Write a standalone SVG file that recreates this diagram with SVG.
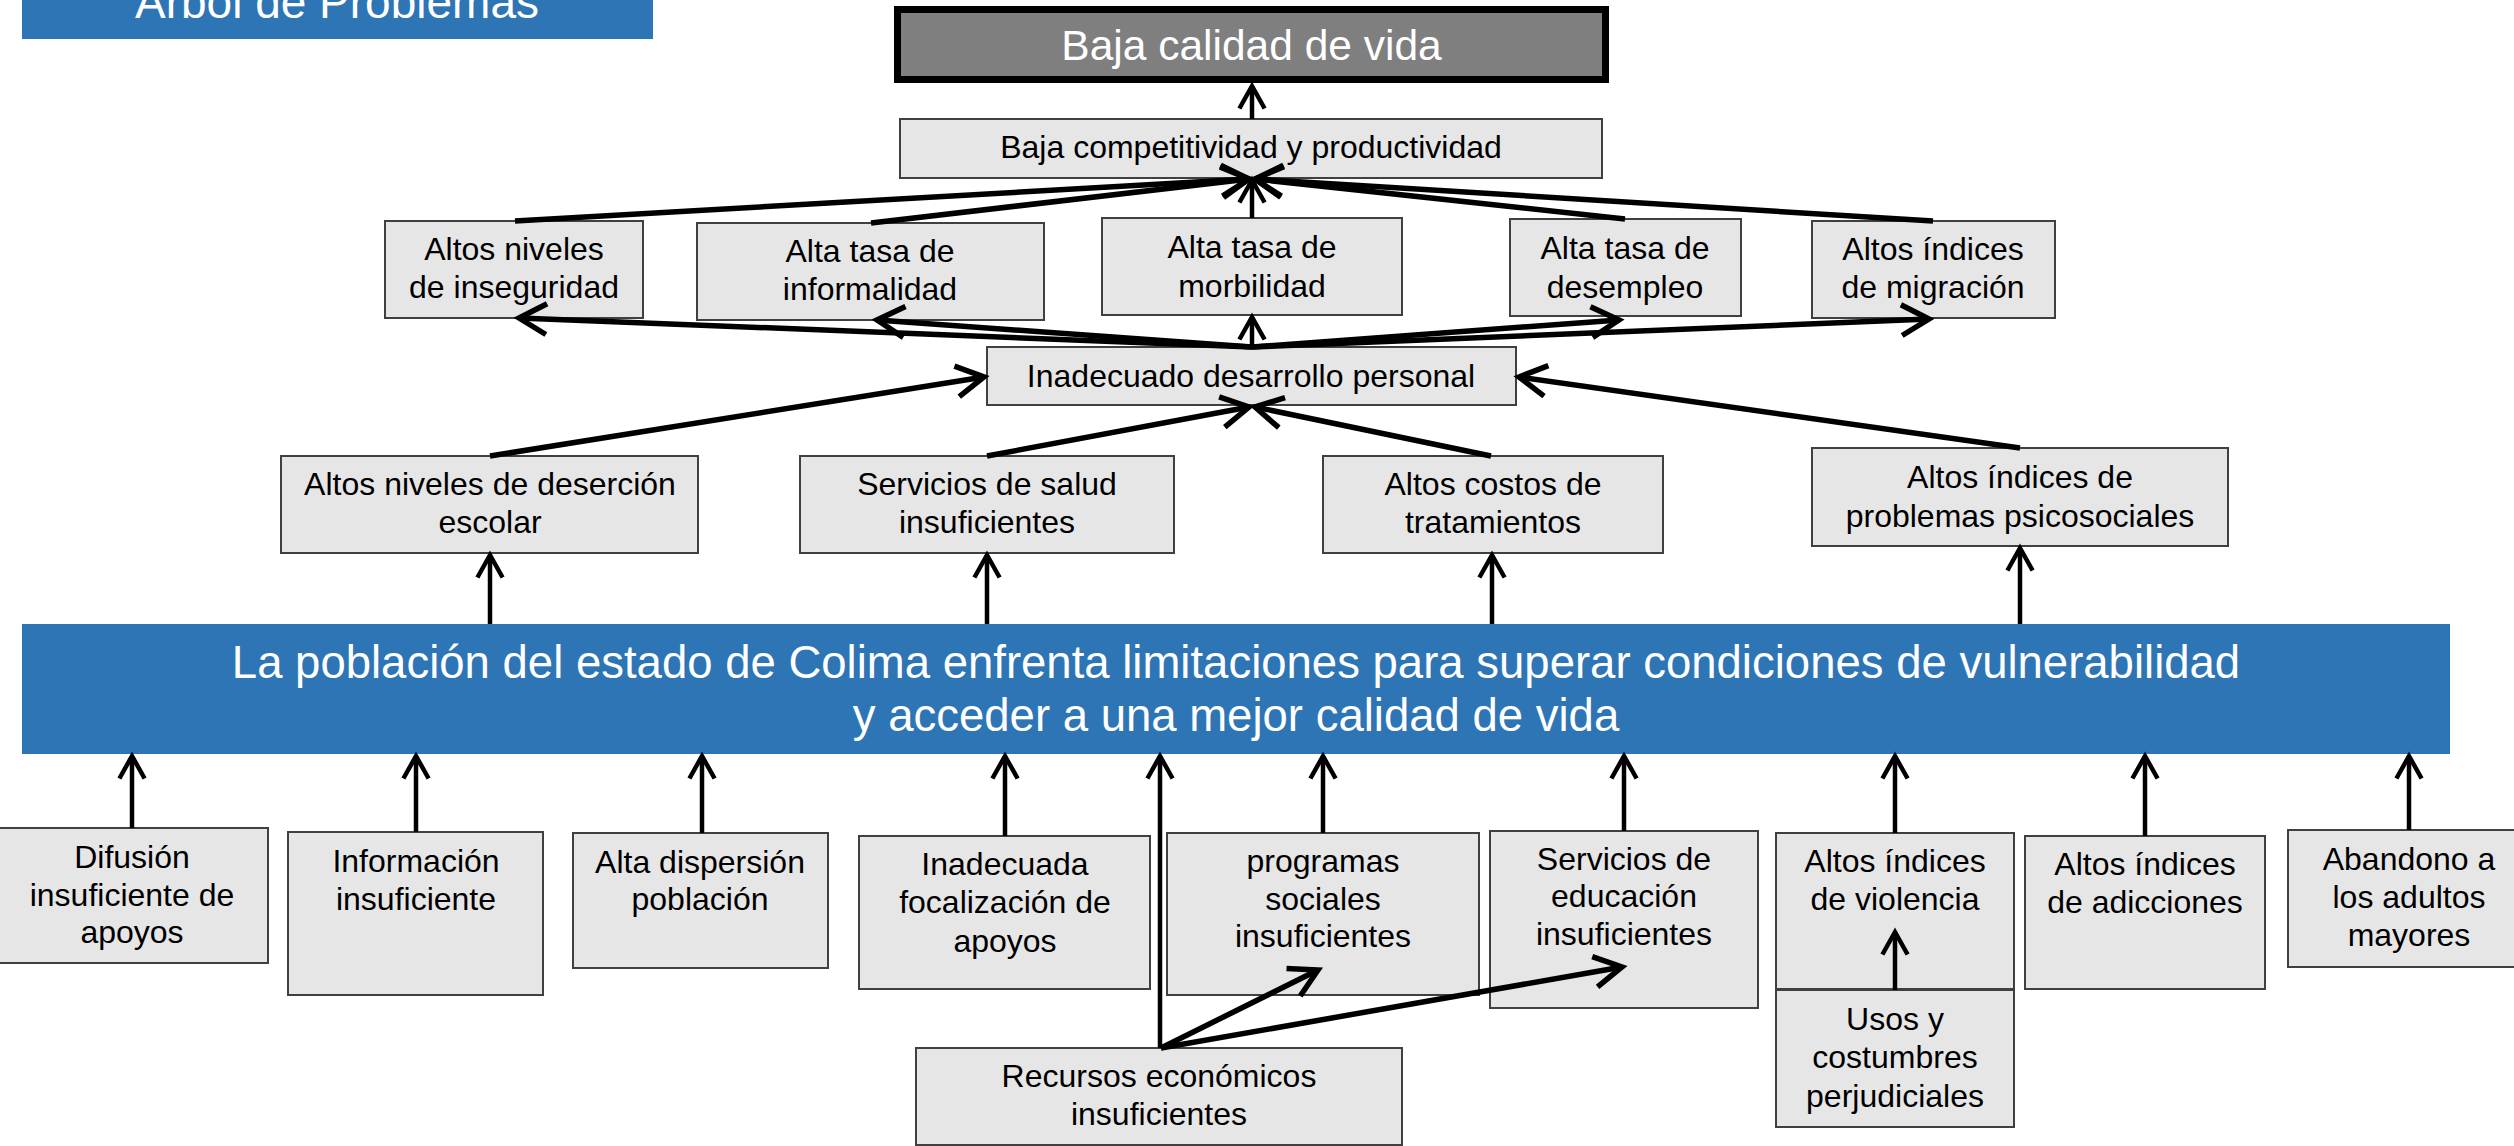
<svg xmlns="http://www.w3.org/2000/svg" width="2514" height="1146" viewBox="0 0 2514 1146">
<style>
.bg{fill:#ffffff}
.box{fill:#e7e6e6;stroke:#404040;stroke-width:2}
.blue{fill:#2e75b6}
.t{font-family:"Liberation Sans",Arial,sans-serif;font-size:32px;fill:#000;text-anchor:middle}
.tw{font-family:"Liberation Sans",Arial,sans-serif;fill:#fff;text-anchor:middle}
.c{stroke:#000;stroke-width:4.5;fill:none;marker-end:url(#arr)}
.cd{stroke:#000;stroke-width:5.5;fill:none;marker-end:url(#arr)}
</style>
<defs>
<marker id="arr" viewBox="-7 -4 8 8" refX="0" refY="0" markerWidth="8" markerHeight="8" orient="auto" markerUnits="strokeWidth" overflow="visible">
<path d="M-5,-2.8 L0,0 L-5,2.8" fill="none" stroke="#000" stroke-width="1"/>
</marker>
</defs>
<rect class="bg" x="0" y="0" width="2514" height="1146"/>

<g id="title">
<rect class="blue" x="22" y="-10" width="631" height="49"/>
<text class="tw" x="337" y="18" font-size="46">Árbol de Problemas</text>
</g>

<g id="n-baja-calidad">
<rect x="897.5" y="9.5" width="708" height="70" fill="#7f7f7f" stroke="#000" stroke-width="7"/>
<text class="tw" x="1251.5" y="60" font-size="42.5">Baja calidad de vida</text>
</g>

<g id="n-competitividad">
<rect class="box" x="900" y="119" width="702" height="59"/>
<text class="t" x="1251" y="158">Baja competitividad y productividad</text>
</g>

<g id="n-inseguridad">
<rect class="box" x="385" y="221" width="258" height="97"/>
<text class="t"><tspan x="514" y="260">Altos niveles</tspan><tspan x="514" y="298">de inseguridad</tspan></text>
</g>
<g id="n-informalidad">
<rect class="box" x="697" y="223" width="347" height="97"/>
<text class="t"><tspan x="870" y="262">Alta tasa de</tspan><tspan x="870" y="300">informalidad</tspan></text>
</g>
<g id="n-morbilidad">
<rect class="box" x="1102" y="218" width="300" height="97"/>
<text class="t"><tspan x="1252" y="258">Alta tasa de</tspan><tspan x="1252" y="297">morbilidad</tspan></text>
</g>
<g id="n-desempleo">
<rect class="box" x="1510" y="219" width="231" height="97"/>
<text class="t"><tspan x="1625" y="259">Alta tasa de</tspan><tspan x="1625" y="298">desempleo</tspan></text>
</g>
<g id="n-migracion">
<rect class="box" x="1812" y="221" width="243" height="97"/>
<text class="t"><tspan x="1933" y="260">Altos índices</tspan><tspan x="1933" y="298">de migración</tspan></text>
</g>

<g id="n-desarrollo">
<rect class="box" x="987" y="347" width="529" height="58"/>
<text class="t" x="1251" y="387">Inadecuado desarrollo personal</text>
</g>

<g id="n-desercion">
<rect class="box" x="281" y="456" width="417" height="97"/>
<text class="t"><tspan x="490" y="495">Altos niveles de deserción</tspan><tspan x="490" y="533">escolar</tspan></text>
</g>
<g id="n-salud">
<rect class="box" x="800" y="456" width="374" height="97"/>
<text class="t"><tspan x="987" y="495">Servicios de salud</tspan><tspan x="987" y="533">insuficientes</tspan></text>
</g>
<g id="n-costos">
<rect class="box" x="1323" y="456" width="340" height="97"/>
<text class="t"><tspan x="1493" y="495">Altos costos de</tspan><tspan x="1493" y="533">tratamientos</tspan></text>
</g>
<g id="n-psicosociales">
<rect class="box" x="1812" y="448" width="416" height="98"/>
<text class="t"><tspan x="2020" y="488">Altos índices de</tspan><tspan x="2020" y="527">problemas psicosociales</tspan></text>
</g>

<g id="n-problema">
<rect class="blue" x="22" y="624" width="2428" height="130"/>
<text class="tw" font-size="45.5"><tspan x="1236" y="678">La población del estado de Colima enfrenta limitaciones para superar condiciones de vulnerabilidad</tspan><tspan x="1236" y="731">y acceder a una mejor calidad de vida</tspan></text>
</g>

<g id="n-difusion">
<rect class="box" x="-4" y="828" width="272" height="135"/>
<text class="t"><tspan x="132" y="868">Difusión</tspan><tspan x="132" y="906">insuficiente de</tspan><tspan x="132" y="943">apoyos</tspan></text>
</g>
<g id="n-informacion">
<rect class="box" x="288" y="832" width="255" height="163"/>
<text class="t"><tspan x="416" y="872">Información</tspan><tspan x="416" y="910">insuficiente</tspan></text>
</g>
<g id="n-dispersion">
<rect class="box" x="573" y="833" width="255" height="135"/>
<text class="t"><tspan x="700" y="873">Alta dispersión</tspan><tspan x="700" y="910">población</tspan></text>
</g>
<g id="n-focalizacion">
<rect class="box" x="859" y="836" width="291" height="153"/>
<text class="t"><tspan x="1005" y="875">Inadecuada</tspan><tspan x="1005" y="913">focalización de</tspan><tspan x="1005" y="952">apoyos</tspan></text>
</g>
<g id="n-programas">
<rect class="box" x="1167" y="833" width="312" height="162"/>
<text class="t"><tspan x="1323" y="872">programas</tspan><tspan x="1323" y="910">sociales</tspan><tspan x="1323" y="947">insuficientes</tspan></text>
</g>
<g id="n-educacion">
<rect class="box" x="1490" y="831" width="268" height="177"/>
<text class="t"><tspan x="1624" y="870">Servicios de</tspan><tspan x="1624" y="907">educación</tspan><tspan x="1624" y="945">insuficientes</tspan></text>
</g>
<g id="n-violencia">
<rect class="box" x="1776" y="833" width="238" height="156"/>
<text class="t"><tspan x="1895" y="872">Altos índices</tspan><tspan x="1895" y="910">de violencia</tspan></text>
</g>
<g id="n-usos">
<rect class="box" x="1776" y="990" width="238" height="137"/>
<text class="t"><tspan x="1895" y="1030">Usos y</tspan><tspan x="1895" y="1068">costumbres</tspan><tspan x="1895" y="1107">perjudiciales</tspan></text>
</g>
<g id="n-adicciones">
<rect class="box" x="2025" y="836" width="240" height="153"/>
<text class="t"><tspan x="2145" y="875">Altos índices</tspan><tspan x="2145" y="913">de adicciones</tspan></text>
</g>
<g id="n-abandono">
<rect class="box" x="2288" y="830" width="242" height="137"/>
<text class="t"><tspan x="2409" y="870">Abandono a</tspan><tspan x="2409" y="908">los adultos</tspan><tspan x="2409" y="946">mayores</tspan></text>
</g>
<g id="n-recursos">
<rect class="box" x="916" y="1048" width="486" height="97"/>
<text class="t"><tspan x="1159" y="1087">Recursos económicos</tspan><tspan x="1159" y="1125">insuficientes</tspan></text>
</g>

<g id="connectors">
<line class="c" x1="1252" y1="119" x2="1252" y2="86"/>
<line class="cd" x1="515" y1="221" x2="1249" y2="179"/>
<line class="cd" x1="871" y1="223" x2="1249" y2="179"/>
<line class="c" x1="1252" y1="218" x2="1252" y2="180"/>
<line class="cd" x1="1625" y1="219" x2="1255" y2="179"/>
<line class="cd" x1="1933" y1="221" x2="1255" y2="179"/>

<line class="cd" x1="1252" y1="347" x2="519" y2="318"/>
<line class="cd" x1="1252" y1="347" x2="877" y2="320"/>
<line class="c" x1="1252" y1="347" x2="1252" y2="317"/>
<line class="cd" x1="1252" y1="347" x2="1619" y2="320"/>
<line class="cd" x1="1252" y1="347" x2="1929" y2="319"/>

<line class="cd" x1="490" y1="456" x2="984" y2="377"/>
<line class="cd" x1="987" y1="456" x2="1249" y2="407"/>
<line class="cd" x1="1491" y1="456" x2="1255" y2="407"/>
<line class="cd" x1="2020" y1="448" x2="1519" y2="377"/>

<line class="c" x1="490" y1="624" x2="490" y2="555"/>
<line class="c" x1="987" y1="624" x2="987" y2="555"/>
<line class="c" x1="1492" y1="624" x2="1492" y2="555"/>
<line class="c" x1="2020" y1="624" x2="2020" y2="548"/>

<line class="c" x1="132" y1="828" x2="132" y2="756"/>
<line class="c" x1="416" y1="832" x2="416" y2="756"/>
<line class="c" x1="702" y1="833" x2="702" y2="756"/>
<line class="c" x1="1005" y1="836" x2="1005" y2="756"/>
<line class="c" x1="1323" y1="833" x2="1323" y2="756"/>
<line class="c" x1="1624" y1="831" x2="1624" y2="756"/>
<line class="c" x1="1895" y1="833" x2="1895" y2="756"/>
<line class="c" x1="2145" y1="836" x2="2145" y2="756"/>
<line class="c" x1="2409" y1="830" x2="2409" y2="756"/>

<line class="c" x1="1160" y1="1048" x2="1160" y2="756"/>
<line class="cd" x1="1161" y1="1048" x2="1318" y2="970"/>
<line class="cd" x1="1161" y1="1048" x2="1622" y2="967"/>
<line class="c" x1="1895" y1="990" x2="1895" y2="932"/>
</g>
</svg>
